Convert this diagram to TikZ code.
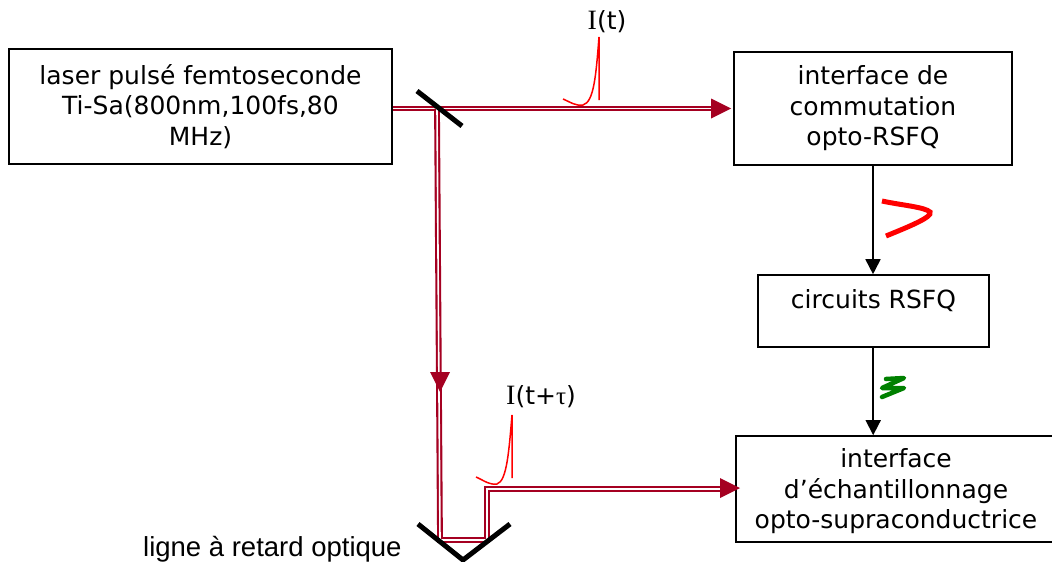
\documentclass[tikz,border=0pt]{standalone}
\usepackage{fontspec}
\setmainfont{DejaVu Sans}
\newfontfamily\arialf{Liberation Sans}
\newfontfamily\timesf{Liberation Serif}
\usetikzlibrary{arrows.meta}
\definecolor{beam}{HTML}{A50021}
\definecolor{pulsered}{HTML}{FF0000}
\definecolor{sqgreen}{HTML}{008000}
\tikzset{
  x=1pt,y=-1pt,
  boxn/.style={draw=black,line width=1.6pt,inner sep=0pt,align=center,font=\fontsize{25}{30.5}\selectfont},
  lbl/.style={inner sep=0pt,align=center,font=\fontsize{25}{30.5}\selectfont},
  beamline/.style={draw=beam,line width=2.1pt,double=white,double distance=1.6pt},
  beamtip/.style={fill=beam,draw=none},
  link/.style={draw=black,line width=1.7pt,-{Triangle[length=15pt,width=15pt]}},
  mirror/.style={draw=black,line width=5pt},
  pulse/.style={draw=pulsered,line width=1.5pt},
}
\begin{document}
\begin{tikzpicture}
\useasboundingbox (0,0) rectangle (1052,562);
\node[boxn,minimum width=383pt,minimum height=115pt] (laser) at (200.5,106.5) {laser pulsé femtoseconde\\Ti-Sa(800nm,100fs,80\\MHz)};
\node[boxn,minimum width=278pt,minimum height=113pt] (comm) at (873,108.5) {interface de\\commutation\\opto-RSFQ};
\node[boxn,minimum width=231pt,minimum height=72pt] (rsfq) at (873.2,311) {};
\node[lbl,anchor=base] (rsfqt) at (873.5,308) {circuits RSFQ};
\node[boxn,minimum width=320pt,minimum height=106pt] (ech) at (896,489) {};
\node[lbl] (echt) at (896,491.5) {interface\\d’échantillonnage\\opto-supraconductrice};
\node[lbl,anchor=base] (it) at (607,29) {{\timesf\fontsize{28}{30}\selectfont I}(t)};
\node[lbl,anchor=base] (itt) at (541,404) {{\timesf\fontsize{28}{30}\selectfont I}(t+{\timesf τ})};
\node[inner sep=0pt,anchor=base west,font=\arialf\fontsize{27.5}{30}\selectfont] (ligne) at (143,556) {ligne à retard optique};
% mirrors
\coordinate (ma) at (417,91);
\coordinate (mb) at (462,126);
\coordinate (va) at (418,524);
\coordinate (vb) at (463,560);
\coordinate (vc) at (510,524);
\coordinate (split) at (437,108.5);
\coordinate (tipa) at (731,108.5);
\coordinate (basea) at (711,108.5);
\coordinate (low) at (440,540);
\coordinate (lowr) at (487,540);
\coordinate (up) at (487,489);
\coordinate (baseb) at (721,489);
\draw[beamline] (laser.east |- split) -- (basea);
\draw[beamline] (split) -- (low) -- (lowr) -- (up) -- (baseb);
\fill[beamtip] (tipa) -- (711,98.5) -- (711,118.5) -- cycle;
\fill[beamtip] (740,488) -- (720,478) -- (720,498) -- cycle;
\fill[beamtip] (440,392) -- (430,372) -- (450,372) -- cycle;
\draw[mirror] (ma) -- (mb);
\draw[mirror,line join=miter] (va) -- (vb) -- (vc);
\draw[link] (comm.south) -- (rsfq.north -| comm.south);
\draw[link] (rsfq.south) -- (ech.north -| rsfq.south);
\draw[pulse] (563,99) .. controls (572,103) and (576,106) .. (583,105) .. controls (594,102) and (596,75) .. (599,37) -- (599,100);
\draw[pulse] (476,477) .. controls (485,481) and (489,485) .. (497,484) .. controls (507,481) and (509,450) .. (512,415) -- (512,478);
\draw[draw=pulsered,line width=5pt] (882,201) .. controls (900,205) and (925,207) .. (930,212) .. controls (933,217) and (908,227) .. (886,236);
\draw[draw=sqgreen,line width=4.5pt,line join=round,line cap=round] (886,379) -- (904,378) -- (882,388) -- (904,388) -- (882,397);
\end{tikzpicture}
\end{document}
